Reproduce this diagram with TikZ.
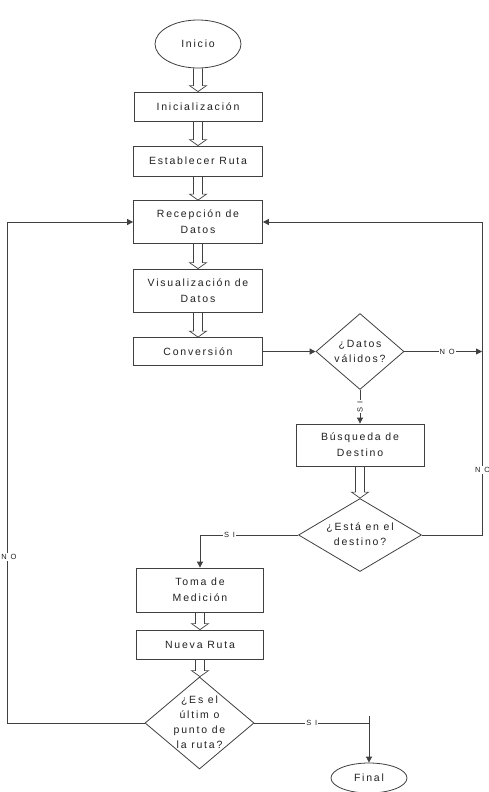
\documentclass[tikz,border=0pt]{standalone}
\usepackage{fontspec}
\setmainfont{Liberation Sans}[LetterSpace=17]
\newfontfamily\lblfont{Liberation Sans}[LetterSpace=50]
\usetikzlibrary{shapes.geometric,arrows.meta,calc}
\definecolor{ln}{HTML}{404040}
\definecolor{tx}{HTML}{222222}
\newcommand{\dtext}[1]{\makebox[0pt]{\raisebox{-3pt}[0pt][0pt]{\fontsize{10.5}{15}\selectfont\begin{tabular}{@{}c@{}}#1\end{tabular}}}}
\tikzset{
  box/.style={draw=ln, line width=0.8pt, rectangle, inner sep=0pt, align=center, text=tx, font=\fontsize{10.5}{16}\selectfont},
  term/.style={draw=ln, line width=0.8pt, ellipse, inner sep=0pt, text=tx, font=\fontsize{10.5}{16}\selectfont},
  dec/.style={draw=ln, line width=0.8pt, diamond, inner sep=0pt, text=tx},
  conn/.style={draw=ln, line width=0.8pt, -{Triangle[length=6pt,width=6pt]}},
  plain/.style={draw=ln, line width=0.8pt},
  lbl/.style={fill=white, inner sep=1pt, text=tx, font=\lblfont\fontsize{7.5}{8}\selectfont},
  hollow/.style={draw=ln, line width=0.7pt, to path={let \p1=(\tikztostart.south), \p2=(\tikztotarget.north) in
    (\x1-4.5pt,\y1) -- (\x1-4.5pt,\y2+6pt) -- (\x1-8.5pt,\y2+6pt) -- (\x1,\y2) -- (\x1+8.5pt,\y2+6pt) -- (\x1+4.5pt,\y2+6pt) -- (\x1+4.5pt,\y1)}}
}
\begin{document}
\begin{tikzpicture}[x=1pt,y=-1pt]
\useasboundingbox (0,0) rectangle (489,792);
\fill[white] (0,0) rectangle (489,792);
% nodes
\node[term, minimum width=86pt, minimum height=48pt] (inicio) at (198,44) {Inicio};
\node[box, minimum width=128pt, minimum height=29pt] (ini) at (198,106.5) {Inicialización};
\node[box, minimum width=129pt, minimum height=30pt] (est) at (198,161) {Establecer Ruta};
\node[box, minimum width=129pt, minimum height=43pt] (rec) at (198,222) {Recepción de\\Datos};
\node[box, minimum width=129pt, minimum height=43pt] (vis) at (198,290.5) {Visualización de\\Datos};
\node[box, minimum width=129pt, minimum height=28pt] (conv) at (198,351.5) {Conversión};
\node[dec, minimum width=88pt, minimum height=76pt] (d1) at (360,351.5) {\dtext{¿Datos\\válidos?}};
\node[box, minimum width=128pt, minimum height=42pt] (bus) at (360,445) {Búsqueda de\\Destino};
\node[dec, minimum width=123pt, minimum height=73pt] (d2) at (360,535) {\dtext{¿Está en el\\destino?}};
\node[box, minimum width=127pt, minimum height=44pt] (toma) at (200,590) {Toma de\\Medición};
\node[box, minimum width=127pt, minimum height=29pt] (nueva) at (200,644.5) {Nueva Ruta};
\node[dec, minimum width=109pt, minimum height=92pt] (d3) at (199.5,723) {\dtext{¿Es el\\últim o\\punto de\\la ruta?}};
\node[term, minimum width=76pt, minimum height=30pt] (final) at (369,778) {Final};
% corner coordinates
\coordinate (R1) at (482,222);
\coordinate (R3) at (482,351.5);
\coordinate (R2) at (482,535);
\coordinate (L1) at (7,222);
\coordinate (L2) at (7,723);
\coordinate (F1) at (369,723);
\coordinate (F0) at (369,716);
% hollow arrows
\draw[hollow] (inicio) to (ini);
\draw[hollow] (ini) to (est);
\draw[hollow] (est) to (rec);
\draw[hollow] (rec) to (vis);
\draw[hollow] (vis) to (conv);
\draw[hollow] (bus) to (d2);
\draw[hollow] (toma) to (nueva);
\draw[hollow] (nueva) to (d3);
% connectors
\draw[conn] (conv) -- (d1);
\draw[conn] (d1) -- (bus) node[lbl, midway, rotate=90] {SI};
\draw[conn] (d1) -- (R3) node[lbl, pos=0.55] {NO};
\draw[conn] (d2.east) -- (R2) -- (R1) -- (rec.east);
\draw[conn] (d2.west) -| (toma.north) node[lbl, pos=0.35] {SI};
\draw[conn] (d3.west) -- (L2) -- (L1) -- (rec.west);
\draw[plain] (d3.east) -- (F1) node[lbl, midway] {SI};
\draw[conn] (F0) -- (final.north);
% side labels
\node[lbl, anchor=west] (noR) at (474,470) {NO};
\node[lbl] (noL) at (9,557) {NO};
\end{tikzpicture}
\end{document}
